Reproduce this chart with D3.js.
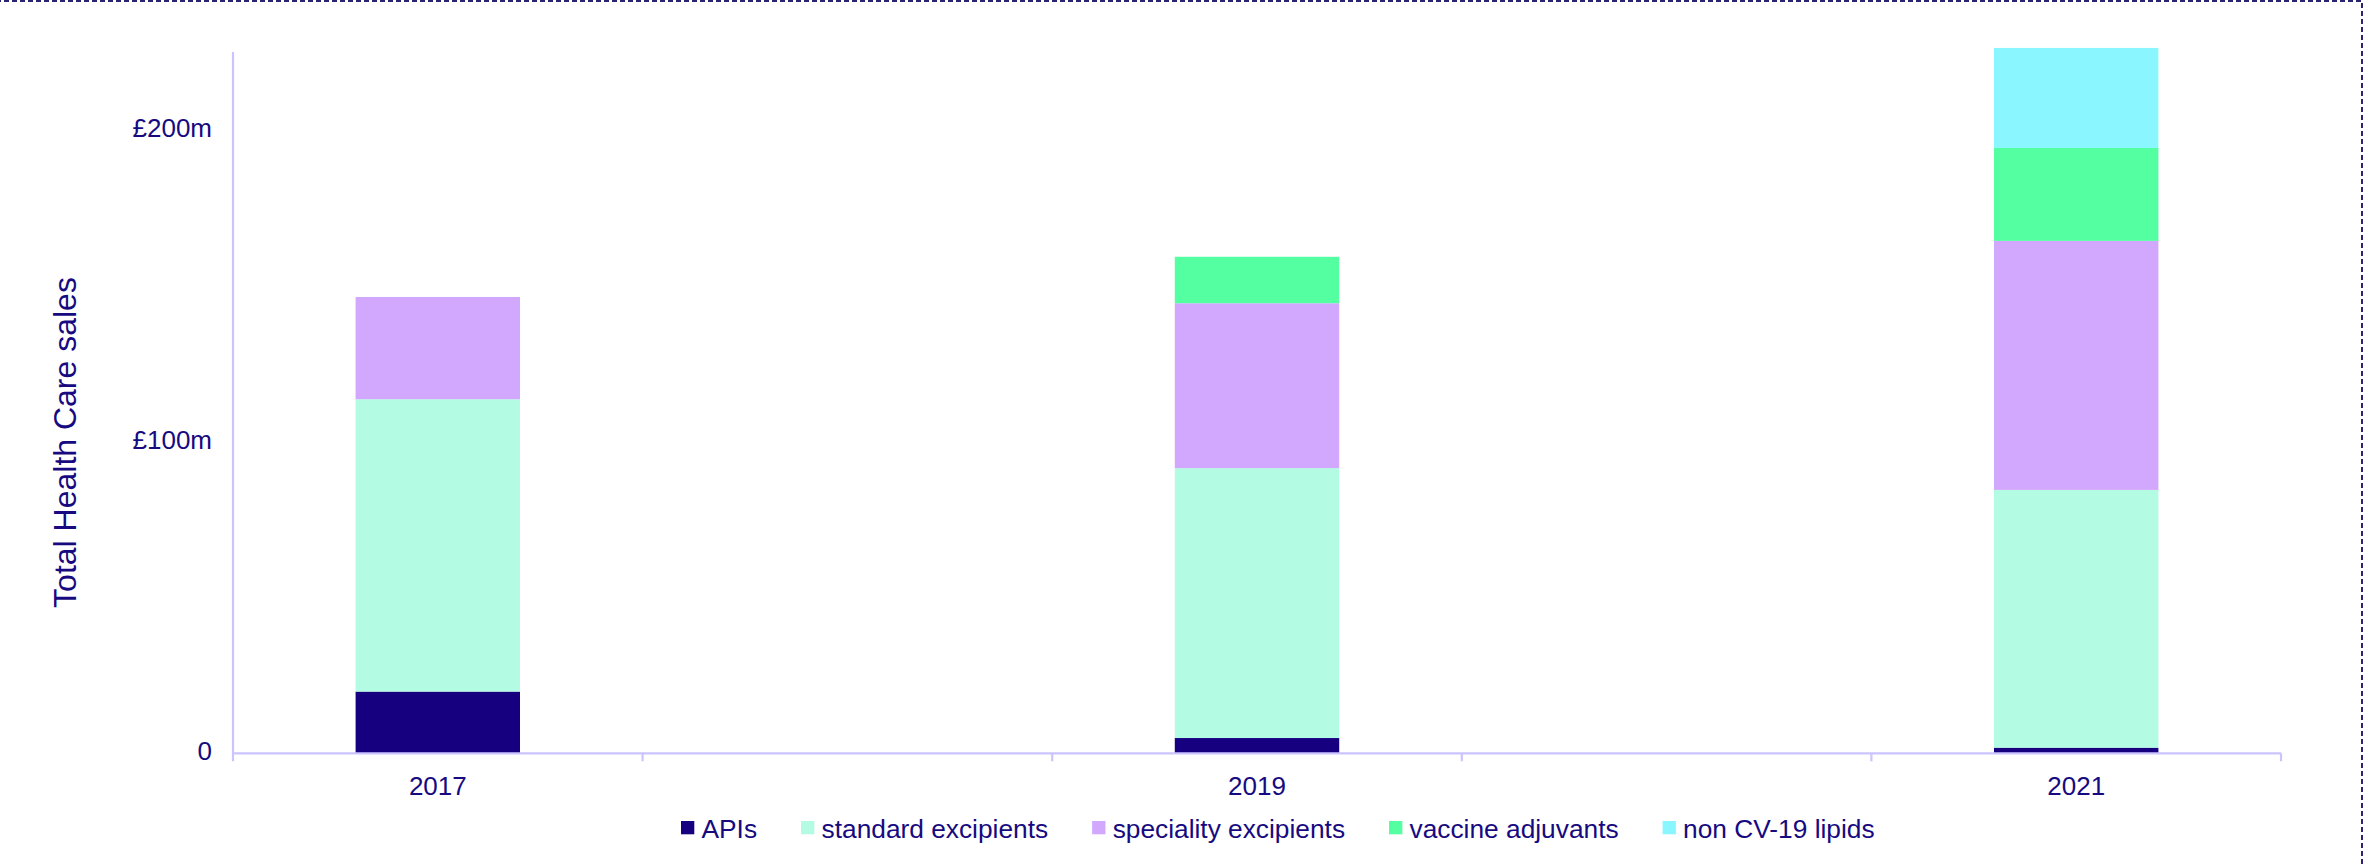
<!DOCTYPE html>
<html>
<head>
<meta charset="utf-8">
<script src="https://cdn.jsdelivr.net/npm/d3@7/dist/d3.min.js"></script>
<style>
  html, body { margin: 0; padding: 0; background: #ffffff; }
  svg { display: block; }
  text { font-family: "Liberation Sans", Arial, sans-serif; fill: #170a80; }
</style>
</head>
<body>
<svg id="chart" width="2364" height="865"></svg>
<script>
// Health care sales by product group, £m (2018 and 2020 have no figures)
const years = ["2017", "2018", "2019", "2020", "2021"];
const yearLabels = ["2017", "", "2019", "", "2021"];
const apis = [19.8, null, 4.9, null, 1.8];
const standardExcipients = [93.8, null, 86.6, null, 82.7];
const specialityExcipients = [32.8, null, 52.9, null, 79.9];
const vaccineAdjuvants = [0, null, 14.9, null, 29.8];
const nonCv19Lipids = [0, null, 0, null, 32.1];

const seriesNames = ["APIs", "standard excipients", "speciality excipients", "vaccine adjuvants", "non CV-19 lipids"];
const seriesColors = ["#160080", "#b3fbe3", "#d2a8ff", "#53ffa0", "#8af6ff"];

const yTickValues = [0, 100, 200];
const yTickLabels = ["0", "£100m", "£200m"];
const yAxisTitle = "Total Health Care sales";

const seriesValues = [apis, standardExcipients, specialityExcipients, vaccineAdjuvants, nonCv19Lipids];
const rows = years.map((yr, i) => {
  const r = { year: yr, hasData: apis[i] !== null };
  seriesNames.forEach((name, s) => { r[name] = seriesValues[s][i] || 0; });
  return r;
});

const svg = d3.select("#chart");
const axisColor = "#cac5ff";

const x = d3.scaleBand().domain(years).range([233, 2281]).padding(0);
const y = d3.scaleLinear().domain([0, 225]).range([753.3, 52]);
const barFrac = 0.4014;
const barW = x.bandwidth() * barFrac;

// stacked bars
const stack = d3.stack().keys(seriesNames);
const stacked = stack(rows);
const color = d3.scaleOrdinal().domain(seriesNames).range(seriesColors);

const gBars = svg.append("g");
stacked.forEach(layer => {
  gBars.append("g")
    .attr("fill", color(layer.key))
    .selectAll("rect")
    .data(layer.filter(d => d.data.hasData && d[1] - d[0] > 0))
    .join("rect")
    .attr("x", d => x(d.data.year) + (x.bandwidth() - barW) / 2)
    .attr("width", barW)
    .attr("y", d => y(d[1]))
    .attr("height", d => y(d[0]) - y(d[1]));
});

// y axis line (runs down past the baseline as the first category tick)
svg.append("line")
  .attr("x1", x.range()[0]).attr("x2", x.range()[0])
  .attr("y1", y(225)).attr("y2", y(0) + 8)
  .attr("stroke", axisColor).attr("stroke-width", 2.2);

// x axis line and category boundary ticks
svg.append("line")
  .attr("x1", x.range()[0]).attr("x2", x.range()[1])
  .attr("y1", y(0)).attr("y2", y(0))
  .attr("stroke", axisColor).attr("stroke-width", 2.2);

const bounds = years.map(yr => x(yr)).concat([x.range()[1]]);
svg.append("g").selectAll("line")
  .data(bounds.slice(1))
  .join("line")
  .attr("x1", d => d).attr("x2", d => d)
  .attr("y1", y(0)).attr("y2", y(0) + 8)
  .attr("stroke", axisColor).attr("stroke-width", 2.2);

// y tick labels
svg.append("g").selectAll("text")
  .data(yTickValues)
  .join("text")
  .attr("x", 212)
  .attr("y", d => y(d) - 2)
  .attr("dy", "0.35em")
  .attr("text-anchor", "end")
  .attr("font-size", 26)
  .text((d, i) => yTickLabels[i]);

// x category labels
svg.append("g").selectAll("text")
  .data(years)
  .join("text")
  .attr("x", d => x(d) + x.bandwidth() / 2)
  .attr("y", 794.5)
  .attr("text-anchor", "middle")
  .attr("font-size", 26)
  .text((d, i) => yearLabels[i]);

// y axis title
svg.append("text")
  .attr("transform", "translate(76,442.5) rotate(-90)")
  .attr("text-anchor", "middle")
  .attr("font-size", 32)
  .text(yAxisTitle);

// legend
const legend = svg.append("g").attr("transform", "translate(681,0)");
let lx = 0;
seriesNames.forEach((name, i) => {
  legend.append("rect")
    .attr("x", lx).attr("y", 821)
    .attr("width", 13.3).attr("height", 13.3)
    .attr("fill", seriesColors[i]);
  const t = legend.append("text")
    .attr("x", lx + 20.5).attr("y", 837.5)
    .attr("font-size", 26.3)
    .text(name);
  lx += 20.5 + t.node().getComputedTextLength() + 44;
});

// dashed frame edge
svg.append("rect")
  .attr("x", -20).attr("y", 1)
  .attr("width", 2382).attr("height", 900)
  .attr("fill", "none")
  .attr("stroke", "#2a2370")
  .attr("stroke-width", 2)
  .attr("stroke-dasharray", "5,3");
</script>
</body>
</html>
